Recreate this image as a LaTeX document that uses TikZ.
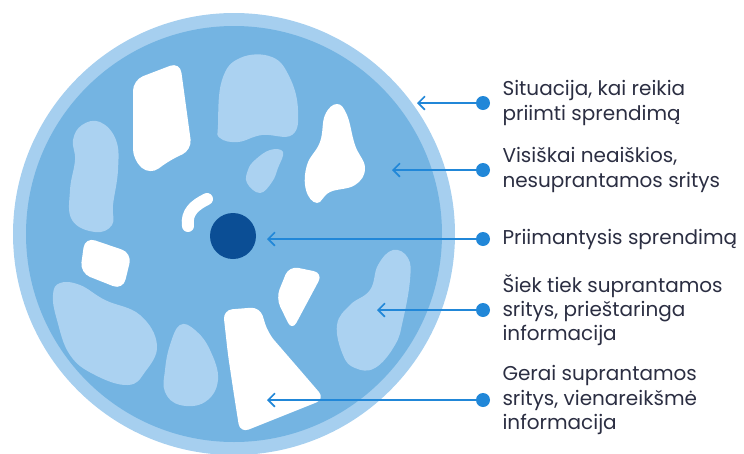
\documentclass[tikz,border=0pt]{standalone}
\usepackage{fontspec}
\setmainfont{Poppins}
\usetikzlibrary{arrows.meta,positioning}
\definecolor{ringblue}{HTML}{A6CFEF}
\definecolor{discblue}{HTML}{74B4E2}
\definecolor{patchblue}{HTML}{ABD2F1}
\definecolor{coreblue}{HTML}{0B4E95}
\definecolor{lineblue}{HTML}{2187D8}
\definecolor{inkblue}{HTML}{2B2E42}

\begin{document}
\begin{tikzpicture}[x=0.75pt,y=-0.75pt,
  bullet/.style={circle,fill=lineblue,inner sep=0pt,minimum size=10.5pt},
  lbl/.style={align=left,text=inkblue,font=\fontsize{15}{18.3}\selectfont,inner sep=0pt},
  pointer/.style={draw=lineblue,line width=1.5pt,-{Straight Barb[length=5pt,width=10pt,line width=1.3pt]}},
  patch/.style={fill=patchblue},
  hole/.style={fill=white}]

\useasboundingbox (0,0) rectangle (744,454);

% disc
\fill[ringblue] (234,234) circle (221);
\fill[discblue] (234,234) circle (208);

% light patches
\fill[patch] plot[smooth cycle,tension=0.7] coordinates {(218,125) (222,80) (240,58) (272,57) (290,78) (298,110) (292,135) (262,135) (238,142) (220,138)};
\fill[patch] plot[smooth cycle,tension=0.7] coordinates {(255,160) (270,150) (283,152) (278,168) (272,182) (260,193) (247,183) (248,170)};
\fill[patch] plot[smooth cycle,tension=0.7] coordinates {(82,125) (100,122) (116,140) (118,170) (113,205) (112,225) (95,232) (72,220) (70,190) (75,160) (73,140)};
\fill[patch] plot[smooth cycle,tension=0.7] coordinates {(60,283) (80,285) (105,300) (140,315) (157,345) (145,372) (128,385) (95,375) (70,355) (57,320) (53,295)};
\fill[patch] plot[smooth cycle,tension=0.7] coordinates {(180,325) (195,330) (210,350) (218,380) (205,402) (180,405) (165,392) (165,370) (170,345)};
\fill[patch] plot[smooth cycle,tension=0.7] coordinates {(393,250) (408,258) (410,280) (403,320) (395,345) (375,368) (355,368) (343,355) (337,325) (350,305) (370,290) (378,265)};

% white patches
\fill[hole,rounded corners=8] (133,80) -- (180,62) -- (192,150) -- (170,160) -- (150,175) -- (133,160) -- cycle;
\fill[hole] plot[smooth cycle,tension=0.7] coordinates {(337,104) (347,115) (355,145) (365,168) (355,185) (330,192) (317,203) (306,190) (307,165) (320,142) (325,115)};
\fill[hole,rounded corners=8] (85,237) -- (132,253) -- (123,290) -- (80,273) -- cycle;
\fill[hole,rounded corners=7] (223,310) -- (260,307) -- (268,333) -- (300,370) -- (325,399) -- (280,417) -- (240,433) -- (234,395) -- (228,355) -- cycle;
\fill[hole,rounded corners=7] (289,266) -- (323,273) -- (292,331) -- (276,298) -- cycle;
\draw[white,line width=9pt,line cap=round] (188,226) .. controls (186,212) and (195,205) .. (207,199);

% decision maker
\fill[coreblue] (233,236) circle (23);

% callouts
\coordinate (t1) at (417,103);
\coordinate (t2) at (392,170);
\coordinate (t3) at (267,239);
\coordinate (t4) at (377,310);
\coordinate (t5) at (267,400);

\node[bullet] (b1) at (483,103) {};
\node[bullet] (b2) at (483,170) {};
\node[bullet] (b3) at (483,239) {};
\node[bullet] (b4) at (483,310) {};
\node[bullet] (b5) at (483,400) {};

\draw[pointer] (b1) -- (t1);
\draw[pointer] (b2) -- (t2);
\draw[pointer] (b3) -- (t3);
\draw[pointer] (b4) -- (t4);
\draw[pointer] (b5) -- (t5);

\node[lbl,right=9pt of b1] (l1) {Situacija, kai reikia\\priimti sprendimą};
\node[lbl,right=9pt of b2] (l2) {Visiškai neaiškios,\\nesuprantamos sritys};
\node[lbl,right=9pt of b3] (l3) {Priimantysis sprendimą};
\node[lbl,right=9pt of b4] (l4) {Šiek tiek suprantamos\\sritys, prieštaringa\\informacija};
\node[lbl,right=9pt of b5] (l5) {Gerai suprantamos\\sritys, vienareikšmė\\informacija};

\end{tikzpicture}
\end{document}
